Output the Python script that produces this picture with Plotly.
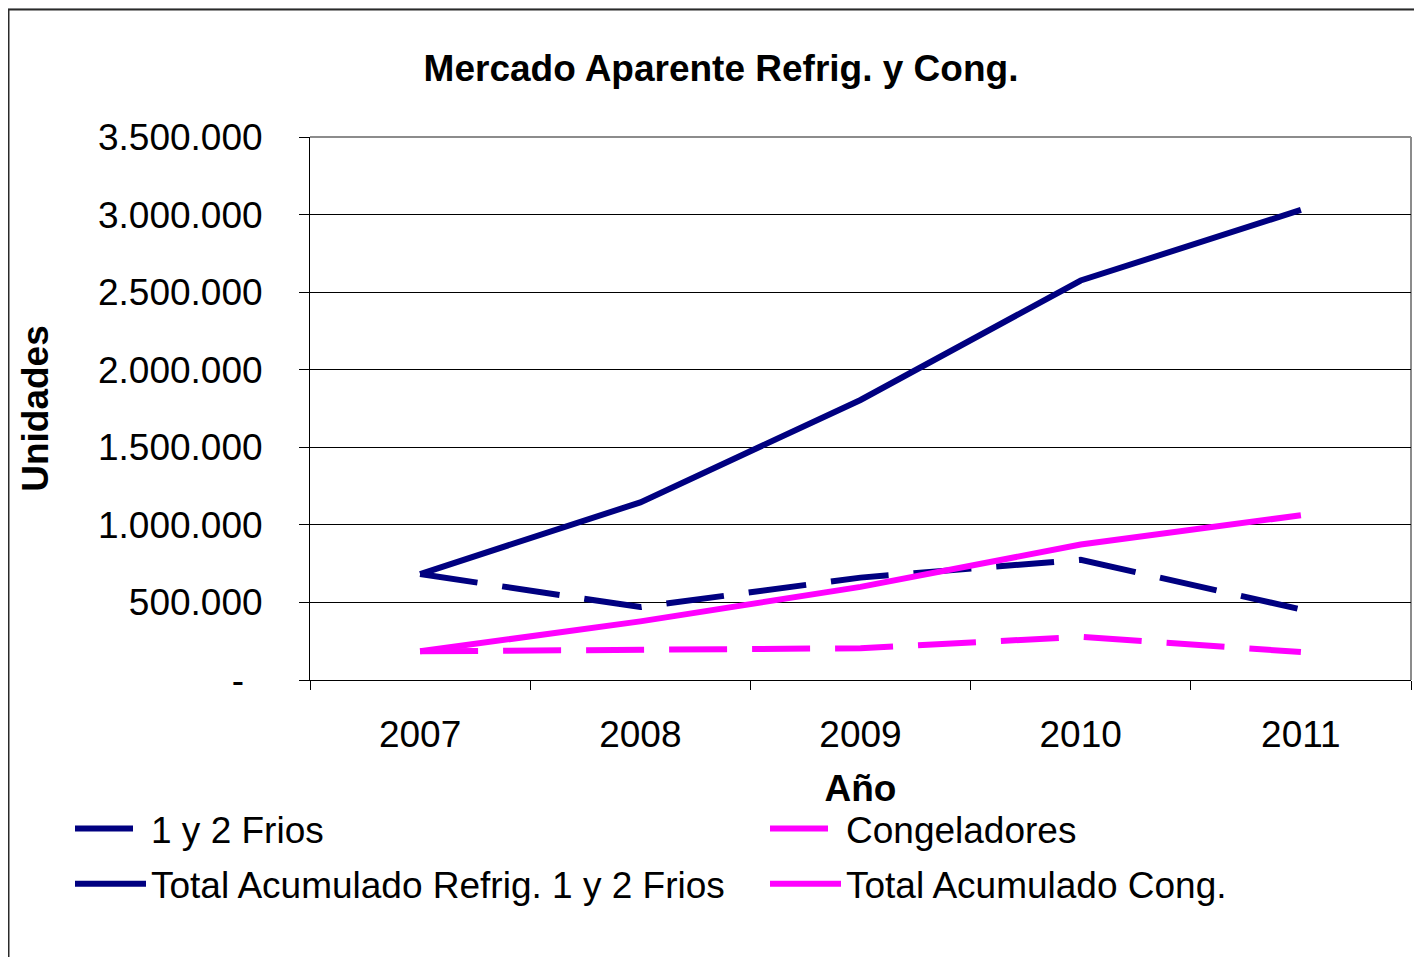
import plotly.graph_objects as go

years = ["2007", "2008", "2009", "2010", "2011"]
frios = [683000, 470000, 660000, 775000, 455000]
total_frios = [683000, 1145000, 1805000, 2575000, 3030000]
cong = [185000, 192000, 205000, 278000, 180000]
total_cong = [185000, 378000, 600000, 873000, 1062000]

y_tickvals = [0, 500000, 1000000, 1500000, 2000000, 2500000, 3000000, 3500000]
y_ticktext = ["-\u2002", "500.000", "1.000.000", "1.500.000", "2.000.000",
              "2.500.000", "3.000.000", "3.500.000"]

NAVY = "#000080"
MAGENTA = "#ff00ff"
FONT = "Liberation Sans, Arial, sans-serif"
DASH = "58px,25px"
FS = 37

fig = go.Figure()
fig.add_trace(go.Scatter(x=years, y=frios, name="1 y 2 Frios", mode="lines",
                         line=dict(color=NAVY, width=6, dash=DASH),
                         legend="legend", legendgroup="a"))
fig.add_trace(go.Scatter(x=years, y=total_frios, name="Total Acumulado Refrig. 1 y 2 Frios",
                         mode="lines", line=dict(color=NAVY, width=6),
                         legend="legend", legendgroup="b"))
fig.add_trace(go.Scatter(x=years, y=cong, name="Congeladores", mode="lines",
                         line=dict(color=MAGENTA, width=6, dash=DASH),
                         legend="legend2", legendgroup="c"))
fig.add_trace(go.Scatter(x=years, y=total_cong, name="Total Acumulado Cong.", mode="lines",
                         line=dict(color=MAGENTA, width=6),
                         legend="legend2", legendgroup="d"))

# page offset of the figure (body margin)
OFF = 8
W, H = 1414, 949
PL, PR, PT, PB = 310, 1411, 137, 680  # plot area in page pixels
L, R, T, B = PL - OFF, W - (PR - OFF), PT - OFF, H - (PB - OFF)
pw = PR - PL
ph = PB - PT

def px_x(px):
    return (px - PL) / pw

def px_y(py):
    return (PB - py) / ph

shapes = [
    dict(type="rect", xref="paper", yref="paper", x0=px_x(OFF + 0.5), x1=px_x(1440),
         y0=px_y(990), y1=px_y(OFF + 1.5), fillcolor="white",
         line=dict(color="#2a2a2a", width=2), layer="below"),
    dict(type="line", xref="paper", yref="paper", x0=0, x1=1, y0=1, y1=1,
         line=dict(color="#8c8c8c", width=2), layer="below"),
    dict(type="line", xref="paper", yref="paper", x0=1, x1=1, y0=0, y1=1,
         line=dict(color="#8c8c8c", width=2), layer="below"),
]

legend_common = dict(
    orientation="v", bgcolor="rgba(0,0,0,0)", borderwidth=0,
    font=dict(family=FONT, size=FS, color="black"),
    itemwidth=71, tracegroupgap=4, yanchor="top", xanchor="left",
)

fig.update_layout(
    width=W, height=H,
    margin=dict(l=L, r=R, t=T, b=B),
    paper_bgcolor="#dfe1e4",
    plot_bgcolor="white",
    shapes=shapes,
    showlegend=True,
    title=dict(text="<b>Mercado Aparente Refrig. y Cong.</b>",
               font=dict(family=FONT, size=FS, color="black"),
               x=(721 - OFF) / W, xref="container", xanchor="center",
               y=1 - (68 - OFF) / H, yref="container", yanchor="middle"),
    legend=dict(x=px_x(70), y=px_y(798), **legend_common),
    legend2=dict(x=px_x(765), y=px_y(798), **legend_common),
    font=dict(family=FONT, size=FS, color="black"),
)

fig.update_xaxes(
    type="category", range=[-0.5, 4.5],
    tickson="boundaries", ticks="outside", ticklen=9, tickcolor="black", tickwidth=1,
    showline=True, linecolor="black", linewidth=1, showgrid=False, zeroline=False,
    tickfont=dict(family=FONT, size=FS, color="black"),
    ticklabelstandoff=22,
    title=dict(text="<b>Año</b>", font=dict(family=FONT, size=FS, color="black"), standoff=20),
)
fig.update_yaxes(
    range=[0, 3500000], tickvals=y_tickvals, ticktext=y_ticktext,
    ticks="outside", ticklen=10, tickcolor="black", tickwidth=1,
    showline=True, linecolor="black", linewidth=1,
    showgrid=True, gridcolor="black", gridwidth=1, zeroline=False,
    tickfont=dict(family=FONT, size=FS, color="black"),
    ticklabelstandoff=29,
    title=dict(text="<b>Unidades</b>", font=dict(family=FONT, size=FS, color="black"), standoff=38),
)

fig.write_html("out.html")
